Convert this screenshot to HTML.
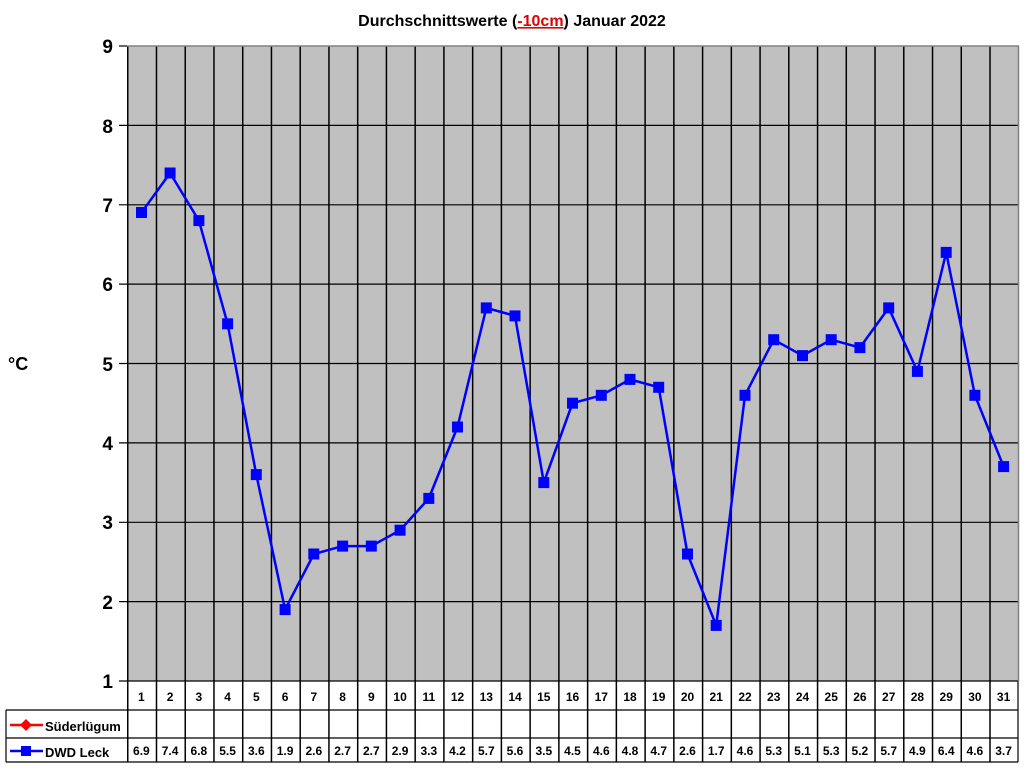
<!DOCTYPE html>
<html><head><meta charset="utf-8"><style>
html,body{margin:0;padding:0;background:#fff}
svg{display:block;font-family:"Liberation Sans",Arial,sans-serif;font-weight:bold}
</style></head><body>
<svg width="1024" height="768" viewBox="0 0 1024 768">
<defs>
<pattern id="vg" x="127" y="0" width="28.742" height="768" patternUnits="userSpaceOnUse">
<rect x="0" y="0" width="1.5" height="768" fill="#000"/>
</pattern>
</defs>
<text x="512" y="26" text-anchor="middle" font-size="16">Durchschnittswerte (<tspan fill="#e00000" text-decoration="underline">-10cm</tspan>) Januar 2022</text>
<rect x="127" y="46" width="891" height="635" fill="#c0c0c0"/>
<rect x="127" y="46" width="891" height="716" fill="url(#vg)"/>
<g stroke="#000" stroke-width="1.2">
<line x1="119" y1="601.6" x2="1018" y2="601.6"/>
<line x1="119" y1="522.3" x2="1018" y2="522.3"/>
<line x1="119" y1="442.9" x2="1018" y2="442.9"/>
<line x1="119" y1="363.5" x2="1018" y2="363.5"/>
<line x1="119" y1="284.1" x2="1018" y2="284.1"/>
<line x1="119" y1="204.8" x2="1018" y2="204.8"/>
<line x1="119" y1="125.4" x2="1018" y2="125.4"/>
<line x1="119" y1="46" x2="127" y2="46"/>
<line x1="119" y1="681" x2="1018" y2="681"/>
<line x1="6" y1="710" x2="1018" y2="710"/>
<line x1="6" y1="738" x2="1018" y2="738"/>
<line x1="6" y1="762" x2="1018" y2="762"/>
<line x1="6" y1="710" x2="6" y2="762"/>
<line x1="1018" y1="681" x2="1018" y2="762"/>
</g>
<line x1="127" y1="46" x2="1019" y2="46" stroke="#808080" stroke-width="1.5"/>
<line x1="1018.5" y1="46" x2="1018.5" y2="681" stroke="#808080" stroke-width="1.5"/>
<g font-size="19" text-anchor="end">
<text x="113" y="688">1</text><text x="113" y="609">2</text><text x="113" y="529">3</text>
<text x="113" y="450">4</text><text x="113" y="371">5</text><text x="113" y="291">6</text>
<text x="113" y="212">7</text><text x="113" y="133">8</text><text x="113" y="53">9</text>
</g>
<text x="8" y="370" font-size="18">°C</text>
<polyline fill="none" stroke="#0000ff" stroke-width="2.5" points="141.4,212.7 170.1,173 198.9,220.6 227.6,323.8 256.3,474.6 285.1,609.6 313.8,554 342.6,546.1 371.3,546.1 400.1,530.2 428.8,498.4 457.5,427 486.3,307.9 515,315.9 543.8,482.6 572.5,403.2 601.3,395.3 630,379.4 658.7,387.3 687.5,554 716.2,625.4 745,395.3 773.7,339.7 802.5,355.6 831.2,339.7 859.9,347.6 888.7,307.9 917.4,371.4 946.2,252.4 974.9,395.3 1003.6,466.6"/>
<g fill="#0000ff">
<rect x="136" y="207" width="11" height="11"/><rect x="164.6" y="167.5" width="11" height="11"/><rect x="193.4" y="215.1" width="11" height="11"/><rect x="222.1" y="318.3" width="11" height="11"/><rect x="250.8" y="469.1" width="11" height="11"/><rect x="279.6" y="604.1" width="11" height="11"/><rect x="308.3" y="548.5" width="11" height="11"/><rect x="337.1" y="540.6" width="11" height="11"/><rect x="365.8" y="540.6" width="11" height="11"/><rect x="394.6" y="524.7" width="11" height="11"/><rect x="423.3" y="492.9" width="11" height="11"/><rect x="452" y="421.5" width="11" height="11"/><rect x="480.8" y="302.4" width="11" height="11"/><rect x="509.5" y="310.4" width="11" height="11"/><rect x="538.3" y="477.1" width="11" height="11"/><rect x="567" y="397.7" width="11" height="11"/><rect x="595.8" y="389.8" width="11" height="11"/><rect x="624.5" y="373.9" width="11" height="11"/><rect x="653.2" y="381.8" width="11" height="11"/><rect x="682" y="548.5" width="11" height="11"/><rect x="710.7" y="619.9" width="11" height="11"/><rect x="739.5" y="389.8" width="11" height="11"/><rect x="768.2" y="334.2" width="11" height="11"/><rect x="797" y="350.1" width="11" height="11"/><rect x="825.7" y="334.2" width="11" height="11"/><rect x="854.4" y="342.1" width="11" height="11"/><rect x="883.2" y="302.4" width="11" height="11"/><rect x="911.9" y="365.9" width="11" height="11"/><rect x="940.7" y="246.9" width="11" height="11"/><rect x="969.4" y="389.8" width="11" height="11"/><rect x="998.1" y="461.1" width="11" height="11"/>
</g>
<line x1="10" y1="725" x2="43" y2="725" stroke="#ff0000" stroke-width="2.5"/>
<polygon points="26,719 32,725 26,731 20,725" fill="#ff0000"/>
<text x="45" y="731" font-size="13">Süderlügum</text>
<line x1="10" y1="751" x2="43" y2="751" stroke="#0000ff" stroke-width="2.5"/>
<rect x="21" y="746" width="10" height="10" fill="#0000ff"/>
<text x="45" y="757" font-size="13">DWD Leck</text>
<g font-size="12" text-anchor="middle">
<text x="141.4" y="701">1</text><text x="170.1" y="701">2</text><text x="198.9" y="701">3</text><text x="227.6" y="701">4</text><text x="256.3" y="701">5</text><text x="285.1" y="701">6</text><text x="313.8" y="701">7</text><text x="342.6" y="701">8</text><text x="371.3" y="701">9</text><text x="400.1" y="701">10</text><text x="428.8" y="701">11</text><text x="457.5" y="701">12</text><text x="486.3" y="701">13</text><text x="515" y="701">14</text><text x="543.8" y="701">15</text><text x="572.5" y="701">16</text><text x="601.3" y="701">17</text><text x="630" y="701">18</text><text x="658.7" y="701">19</text><text x="687.5" y="701">20</text><text x="716.2" y="701">21</text><text x="745" y="701">22</text><text x="773.7" y="701">23</text><text x="802.5" y="701">24</text><text x="831.2" y="701">25</text><text x="859.9" y="701">26</text><text x="888.7" y="701">27</text><text x="917.4" y="701">28</text><text x="946.2" y="701">29</text><text x="974.9" y="701">30</text><text x="1003.6" y="701">31</text>
</g>
<g font-size="12" text-anchor="middle">
<text x="141.4" y="755">6.9</text><text x="170.1" y="755">7.4</text><text x="198.9" y="755">6.8</text><text x="227.6" y="755">5.5</text><text x="256.3" y="755">3.6</text><text x="285.1" y="755">1.9</text><text x="313.8" y="755">2.6</text><text x="342.6" y="755">2.7</text><text x="371.3" y="755">2.7</text><text x="400.1" y="755">2.9</text><text x="428.8" y="755">3.3</text><text x="457.5" y="755">4.2</text><text x="486.3" y="755">5.7</text><text x="515" y="755">5.6</text><text x="543.8" y="755">3.5</text><text x="572.5" y="755">4.5</text><text x="601.3" y="755">4.6</text><text x="630" y="755">4.8</text><text x="658.7" y="755">4.7</text><text x="687.5" y="755">2.6</text><text x="716.2" y="755">1.7</text><text x="745" y="755">4.6</text><text x="773.7" y="755">5.3</text><text x="802.5" y="755">5.1</text><text x="831.2" y="755">5.3</text><text x="859.9" y="755">5.2</text><text x="888.7" y="755">5.7</text><text x="917.4" y="755">4.9</text><text x="946.2" y="755">6.4</text><text x="974.9" y="755">4.6</text><text x="1003.6" y="755">3.7</text>
</g>
</svg>
</body></html>
